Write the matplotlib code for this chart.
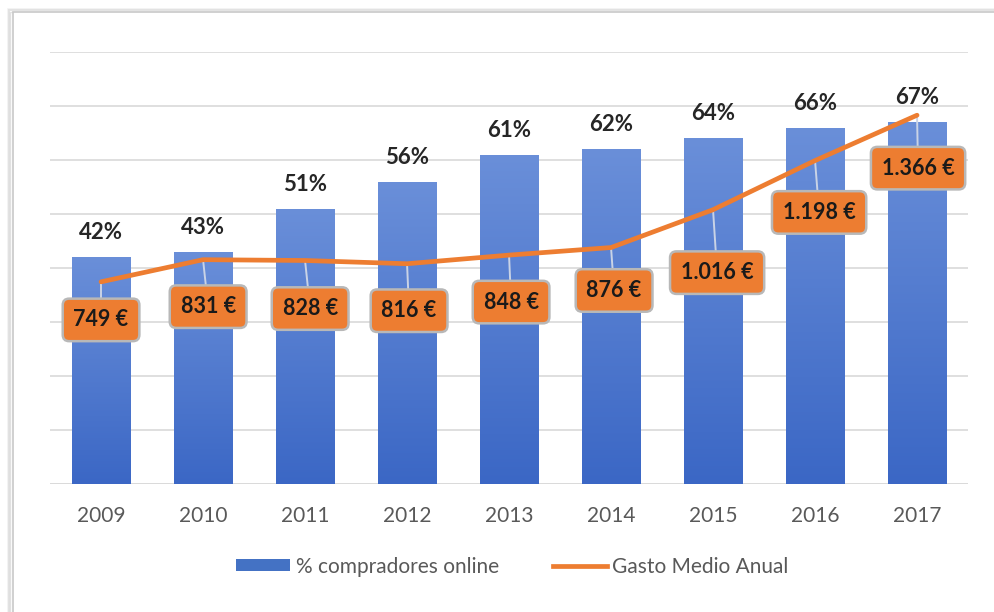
import numpy as np
import matplotlib.pyplot as plt
from matplotlib.patches import Rectangle
from matplotlib.colors import LinearSegmentedColormap

plt.rcParams['font.family'] = ['Lato', 'DejaVu Sans']

# data
years = ['2009', '2010', '2011', '2012', '2013', '2014', '2015', '2016', '2017']
pct_online = [42, 43, 51, 56, 61, 62, 64, 66, 67]
gasto = [749, 831, 828, 816, 848, 876, 1016, 1198, 1366]
gasto_labels = ['749 €', '831 €', '828 €', '816 €', '848 €', '876 €', '1.016 €', '1.198 €', '1.366 €']
# label offsets (x in category units, y in euros) for the callouts
lab_dx = [0.0, 0.05, 0.05, 0.02, 0.02, 0.03, 0.04, 0.04, 0.01]
lab_dy = [-141, -174, -178, -174, -174, -159, -233, -192, -196]

fig = plt.figure(figsize=(9.95, 6.12), dpi=100)
fig.patch.set_facecolor('white')

# chart frame with a soft shadow
for i, a in enumerate([0.05, 0.08, 0.12]):
    fig.patches.append(Rectangle((0.008 + i*0.001, -0.01), 1.1, 0.995 - i*0.002,
                                 transform=fig.transFigure, facecolor='none',
                                 edgecolor='#b0b0b0', alpha=a*3, lw=2 - i*0.5,
                                 zorder=-3))
fig.patches.append(Rectangle((0.013, -0.01), 1.1, 0.991, transform=fig.transFigure,
                             facecolor='white', edgecolor='#c8c8c8', lw=1.2, zorder=-2))

ax = fig.add_axes([0.0503, 0.209, 0.9226, 0.706])
ax.patch.set_alpha(0)
x = np.arange(len(years))

bars = ax.bar(x, pct_online, width=0.57, color='#4472C4', zorder=2)
cmap = LinearSegmentedColormap.from_list('blu', ['#6a8fd9', '#3b67c5'])
grad = np.linspace(0, 1, 256).reshape(-1, 1)
for b in bars:
    bx, by = b.get_x(), b.get_y()
    w, h = b.get_width(), b.get_height()
    im = ax.imshow(grad, cmap=cmap, aspect='auto', origin='upper',
                   extent=(bx, bx + w, by, by + h), zorder=2.1)
    im.set_clip_path(b)

for xi, v in zip(x, pct_online):
    ax.text(xi, v + 2.6, f'{v}%', ha='center', va='bottom', fontsize=16,
            fontweight='bold', color='#262626', zorder=5)

ax.set_ylim(0, 80)
ax.set_xlim(-0.5, len(years) - 0.5)
ax.set_yticks(np.arange(0, 81, 10))
ax.yaxis.grid(True, color='#d9d9d9', lw=1.2, zorder=0)
ax.set_axisbelow(True)
ax.set_xticks(x)
ax.set_xticklabels(years)
for s in ax.spines.values():
    s.set_visible(False)
ax.axhline(0, color='#d9d9d9', lw=1.2, zorder=1)

ax2 = ax.twinx()
ax2.set_ylim(0, 1600)
ax2.axis('off')
ax.tick_params(axis='y', left=False, right=False, labelleft=False, labelright=False)
ax.tick_params(axis='x', bottom=False, labelsize=15, labelcolor='#595959', pad=12)
ax2.plot(x, gasto, color='#ED7D31', lw=3.4, solid_capstyle='round', zorder=3)

for xi, v, lab, dx, dy in zip(x, gasto, gasto_labels, lab_dx, lab_dy):
    ax2.plot([xi, xi + dx], [v, v + dy], color='#c9d3e6', lw=1.4, zorder=2.5)
    ax2.text(xi + dx, v + dy, lab, ha='center', va='center', fontsize=15.5,
             fontweight='bold', color='#1a1a1a', zorder=6,
             bbox=dict(boxstyle='round,pad=0.5,rounding_size=0.3',
                       fc='#ED7D31', ec='#b8b8b8', lw=1.8))

# legend
hb = Rectangle((0, 0), 1, 1, fc='#4472C4')
hl, = ax.plot([], [], color='#ED7D31', lw=3.4)
leg = fig.legend([hb, hl], ['% compradores online', 'Gasto Medio Anual'],
                 loc='center', bbox_to_anchor=(0.515, 0.074), ncol=2, frameon=False,
                 fontsize=15, handlelength=2.6, handleheight=0.5,
                 columnspacing=2.6, handletextpad=0.25)
for t in leg.get_texts():
    t.set_color('#595959')

fig.savefig('out.png', dpi=100, facecolor='white')
